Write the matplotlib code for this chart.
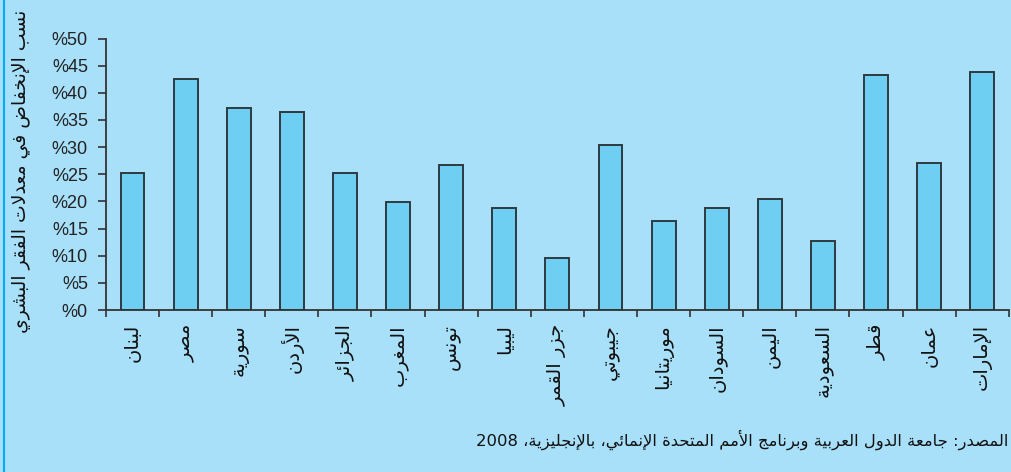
import re
import numpy as np
import matplotlib
matplotlib.use("Agg")
import matplotlib.pyplot as plt
from matplotlib.lines import Line2D

countries = ["لبنان", "مصر", "سورية", "الأردن", "الجزائر", "المغرب", "تونس", "ليبيا",
             "جزر القمر", "جيبوتي", "موريتانيا", "السودان", "اليمن", "السعودية",
             "قطر", "عمان", "الإمارات"]
values = [25.3, 42.5, 37.2, 36.5, 25.3, 19.8, 26.7, 18.7, 9.5, 30.3, 16.4, 18.7,
          20.4, 12.7, 43.3, 27.0, 43.8]
yticks = [0, 5, 10, 15, 20, 25, 30, 35, 40, 45, 50]
ytick_labels = ["%" + str(v) for v in yticks]
ylabel = "نسب الإنخفاض في معدلات الفقر البشري"
source = "المصدر: جامعة الدول العربية وبرنامج الأمم المتحدة الإنمائي، بالإنجليزية، 2008"

# arabic presentation forms: isolated, final, initial, medial
FORMS = {
    'ء': (0xFE80, None, None, None),
    'آ': (0xFE81, 0xFE82, None, None),
    'أ': (0xFE83, 0xFE84, None, None),
    'إ': (0xFE87, 0xFE88, None, None),
    'ا': (0xFE8D, 0xFE8E, None, None),
    'ئ': (0xFE89, 0xFE8A, 0xFE8B, 0xFE8C),
    'ب': (0xFE8F, 0xFE90, 0xFE91, 0xFE92),
    'ة': (0xFE93, 0xFE94, None, None),
    'ت': (0xFE95, 0xFE96, 0xFE97, 0xFE98),
    'ث': (0xFE99, 0xFE9A, 0xFE9B, 0xFE9C),
    'ج': (0xFE9D, 0xFE9E, 0xFE9F, 0xFEA0),
    'ح': (0xFEA1, 0xFEA2, 0xFEA3, 0xFEA4),
    'خ': (0xFEA5, 0xFEA6, 0xFEA7, 0xFEA8),
    'د': (0xFEA9, 0xFEAA, None, None),
    'ذ': (0xFEAB, 0xFEAC, None, None),
    'ر': (0xFEAD, 0xFEAE, None, None),
    'ز': (0xFEAF, 0xFEB0, None, None),
    'س': (0xFEB1, 0xFEB2, 0xFEB3, 0xFEB4),
    'ش': (0xFEB5, 0xFEB6, 0xFEB7, 0xFEB8),
    'ص': (0xFEB9, 0xFEBA, 0xFEBB, 0xFEBC),
    'ض': (0xFEBD, 0xFEBE, 0xFEBF, 0xFEC0),
    'ط': (0xFEC1, 0xFEC2, 0xFEC3, 0xFEC4),
    'ظ': (0xFEC5, 0xFEC6, 0xFEC7, 0xFEC8),
    'ع': (0xFEC9, 0xFECA, 0xFECB, 0xFECC),
    'غ': (0xFECD, 0xFECE, 0xFECF, 0xFED0),
    'ف': (0xFED1, 0xFED2, 0xFED3, 0xFED4),
    'ق': (0xFED5, 0xFED6, 0xFED7, 0xFED8),
    'ك': (0xFED9, 0xFEDA, 0xFEDB, 0xFEDC),
    'ل': (0xFEDD, 0xFEDE, 0xFEDF, 0xFEE0),
    'م': (0xFEE1, 0xFEE2, 0xFEE3, 0xFEE4),
    'ن': (0xFEE5, 0xFEE6, 0xFEE7, 0xFEE8),
    'ه': (0xFEE9, 0xFEEA, 0xFEEB, 0xFEEC),
    'و': (0xFEED, 0xFEEE, None, None),
    'ى': (0xFEEF, 0xFEF0, None, None),
    'ي': (0xFEF1, 0xFEF2, 0xFEF3, 0xFEF4),
    'لآ': (0xFEF5, 0xFEF6, None, None),
    'لأ': (0xFEF7, 0xFEF8, None, None),
    'لإ': (0xFEF9, 0xFEFA, None, None),
    'لا': (0xFEFB, 0xFEFC, None, None),
}


def shape(word):
    # join letters, returns logical order
    tokens = []
    i = 0
    while i < len(word):
        if word[i] == 'ل' and i + 1 < len(word) and word[i:i + 2] in FORMS:
            tokens.append(word[i:i + 2])
            i += 2
        else:
            tokens.append(word[i])
            i += 1
    out = ""
    for k, t in enumerate(tokens):
        if t not in FORMS:
            out += t
            continue
        f = FORMS[t]
        prev = k > 0 and tokens[k - 1] in FORMS and FORMS[tokens[k - 1]][2] is not None
        nxt = f[2] is not None and k + 1 < len(tokens) and tokens[k + 1] in FORMS
        if prev and nxt:
            code = f[3]
        elif prev:
            code = f[1]
        elif nxt:
            code = f[2]
        else:
            code = f[0]
        out += chr(code)
    return out


def rtl(text):
    # visual order, numbers stay left to right
    vis = shape(text)[::-1]
    return re.sub(r"\d+", lambda m: m.group(0)[::-1], vis)


bg = "#a8e0fa"
fig = plt.figure(figsize=(10.11, 4.72), dpi=100, facecolor=bg)
ax = fig.add_axes([0.1048, 0.3432, 0.893, 0.5752])
ax.set_facecolor(bg)

x = np.arange(len(countries))
ax.bar(x, values, width=0.45, color="#6ecff3", edgecolor="#2e3a40", linewidth=1.4)

ax.set_xlim(-0.5, len(countries) - 0.5)
ax.set_ylim(0, 50)
ax.set_yticks(yticks)
ax.set_yticklabels(ytick_labels, family="Liberation Sans", fontsize=13, color="#222222")
ax.tick_params(axis="y", length=6, width=1.2, color="#333333", pad=7)

ax.set_xticks(x)
ax.set_xticklabels([rtl(c) for c in countries], rotation=90, va="top",
                   family="DejaVu Sans", fontsize=14, color="#111111")
ax.set_xticks(np.arange(len(countries) + 1) - 0.5, minor=True)
ax.tick_params(axis="x", which="major", length=0, pad=10)
ax.tick_params(axis="x", which="minor", length=5, width=1.2, color="#333333")

for s in ["top", "right"]:
    ax.spines[s].set_visible(False)
for s in ["left", "bottom"]:
    ax.spines[s].set_color("#333333")
    ax.spines[s].set_linewidth(1.3)

fig.text(22 / 1011, 1 - 171 / 472, rtl(ylabel), rotation=90, ha="center", va="center",
         family="DejaVu Sans", fontsize=13.5, color="#111111")
fig.text(1008 / 1011, 1 - 440 / 472, rtl(source), ha="right", va="center",
         family="DejaVu Sans", fontsize=11.8, color="#111111")

fig.add_artist(Line2D([3.5 / 1011, 3.5 / 1011], [0, 1], transform=fig.transFigure,
                      color="#00aeef", linewidth=1.5))

fig.savefig("out.png", dpi=100, facecolor=bg)
